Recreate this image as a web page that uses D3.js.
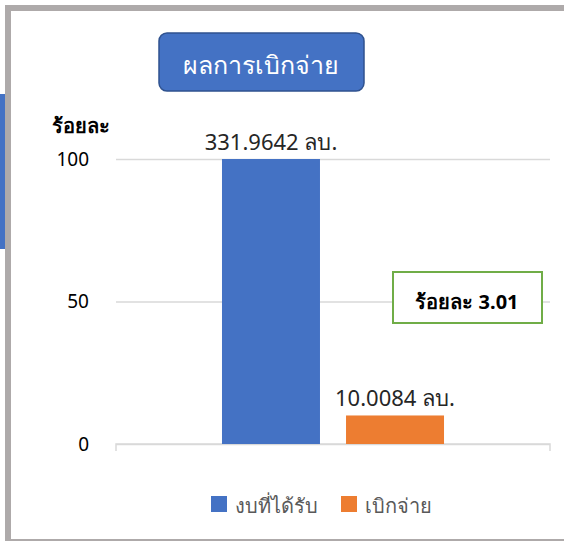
<!DOCTYPE html>
<html>
<head>
<meta charset="utf-8">
<script src="https://cdn.jsdelivr.net/npm/d3@7"></script>
<style>
  body { margin: 0; background: #fff; }
  text { font-family: "Noto Sans", "Open Sans", sans-serif; }
</style>
</head>
<body>
<script>
// chart data
var category = ["ผลการเบิกจ่าย"];
var seriesNames = ["งบที่ได้รับ", "เบิกจ่าย"];
var seriesValues = [331.9642, 10.0084];
var valueLabels = ["331.9642 ลบ.", "10.0084 ลบ."];
var seriesColors = ["#4472C4", "#ED7D31"];
var yTicks = [0, 50, 100];
var yTitle = "ร้อยละ";
var noteText = "ร้อยละ 3.01";

var svgWidth = 564;
var svgHeight = 541;
var margin = {top: 159, right: 14, bottom: 97, left: 116};
var width = svgWidth - margin.left - margin.right;
var height = svgHeight - margin.top - margin.bottom;

var svg = d3.select("body")
			.append("svg")
				.attr("width", svgWidth)
				.attr("height", svgHeight);

//frame and side strip
svg.append("rect")
	.attr("x", 0).attr("y", 94).attr("width", 5).attr("height", 155)
	.attr("fill", "#4472C4");
svg.append("path")
	.attr("d", "M8,541 V8 H564")
	.attr("fill", "none")
	.attr("stroke", "#AEAAAA")
	.attr("stroke-width", 6);
svg.append("rect")
	.attr("x", 5).attr("y", 539).attr("width", 559).attr("height", 2)
	.attr("fill", "#AEAAAA");

//title box
svg.append("rect")
	.attr("x", 159).attr("y", 33).attr("width", 205).attr("height", 58)
	.attr("rx", 8)
	.attr("fill", "#4472C4")
	.attr("stroke", "#2F528F")
	.attr("stroke-width", 1.5);
svg.append("text")
	.attr("x", 261).attr("y", 74)
	.attr("text-anchor", "middle")
	.attr("fill", "#fff")
	.style("font-size", "25px")
	.text(category[0]);

var g = svg.append("g")
			.attr("transform", "translate(" + margin.left + "," + margin.top + ")");

var yScale = d3.scaleLinear()
				.domain([0, 100])
				.range([height, 0])
				.clamp(true);

var x0 = d3.scaleBand()
			.domain(category)
			.range([0, width]);
var x1 = d3.scaleBand()
			.domain(seriesNames)
			.range([x0.bandwidth() * 0.2442, x0.bandwidth() * 0.7558])
			.paddingInner(0.21);

//gridlines
g.append("g")
	.attr("class", "grid")
	.call(d3.axisLeft(yScale).tickValues(yTicks).tickSize(-width).tickFormat(""))
	.call(function(s){
		s.select(".domain").remove();
		s.selectAll("line").attr("stroke", "#D9D9D9").attr("stroke-width", 1.5);
	});

//x axis line with end ticks
g.append("path")
	.attr("d", "M0," + (height + 7) + "V" + height + "H" + width + "V" + (height + 7))
	.attr("fill", "none")
	.attr("stroke", "#D9D9D9")
	.attr("stroke-width", 1.5);

//y tick labels
g.append("g")
	.call(d3.axisLeft(yScale).tickValues(yTicks).tickSize(0).tickPadding(27))
	.call(function(s){
		s.select(".domain").remove();
		s.selectAll("text")
			.attr("fill", "#000")
			.style("font-size", "19px")
			.style("font-family", "'Noto Sans', sans-serif");
	});

g.append("text")
	.attr("x", -64).attr("y", -26)
	.attr("font-weight", "bold")
	.style("font-size", "20px")
	.attr("fill", "#000")
	.text(yTitle);

//bars
var bars = g.selectAll(".bar")
			.data(seriesNames)
			.enter();
bars.append("rect")
	.attr("x", function(d){ return x0(category[0]) + x1(d); })
	.attr("y", function(d, i){ return yScale(seriesValues[i]); })
	.attr("width", x1.bandwidth())
	.attr("height", function(d, i){ return height - yScale(seriesValues[i]); })
	.attr("fill", function(d, i){ return seriesColors[i]; });
bars.append("text")
	.attr("x", function(d){ return x0(category[0]) + x1(d) + x1.bandwidth() / 2; })
	.attr("y", function(d, i){ return yScale(seriesValues[i]) - 9; })
	.attr("text-anchor", "middle")
	.attr("fill", "#262626")
	.style("font-size", "22px")
	.text(function(d, i){ return valueLabels[i]; });

//note box
svg.append("rect")
	.attr("x", 393).attr("y", 272).attr("width", 149).attr("height", 51)
	.attr("fill", "#fff")
	.attr("stroke", "#70AD47")
	.attr("stroke-width", 2);
svg.append("text")
	.attr("x", 467).attr("y", 309)
	.attr("text-anchor", "middle")
	.attr("font-weight", "bold")
	.style("font-size", "20px")
	.attr("fill", "#000")
	.text(noteText);

//legend
var legendX = [211, 341];
var legend = svg.selectAll(".legend")
				.data(seriesNames)
				.enter().append("g")
					.attr("transform", function(d, i){ return "translate(" + legendX[i] + ",496)"; });
legend.append("rect")
	.attr("width", 16).attr("height", 16)
	.attr("fill", function(d, i){ return seriesColors[i]; });
legend.append("text")
	.attr("x", 24).attr("y", 17)
	.attr("fill", "#595959")
	.style("font-size", "20px")
	.text(function(d){ return d; });
</script>
</body>
</html>
